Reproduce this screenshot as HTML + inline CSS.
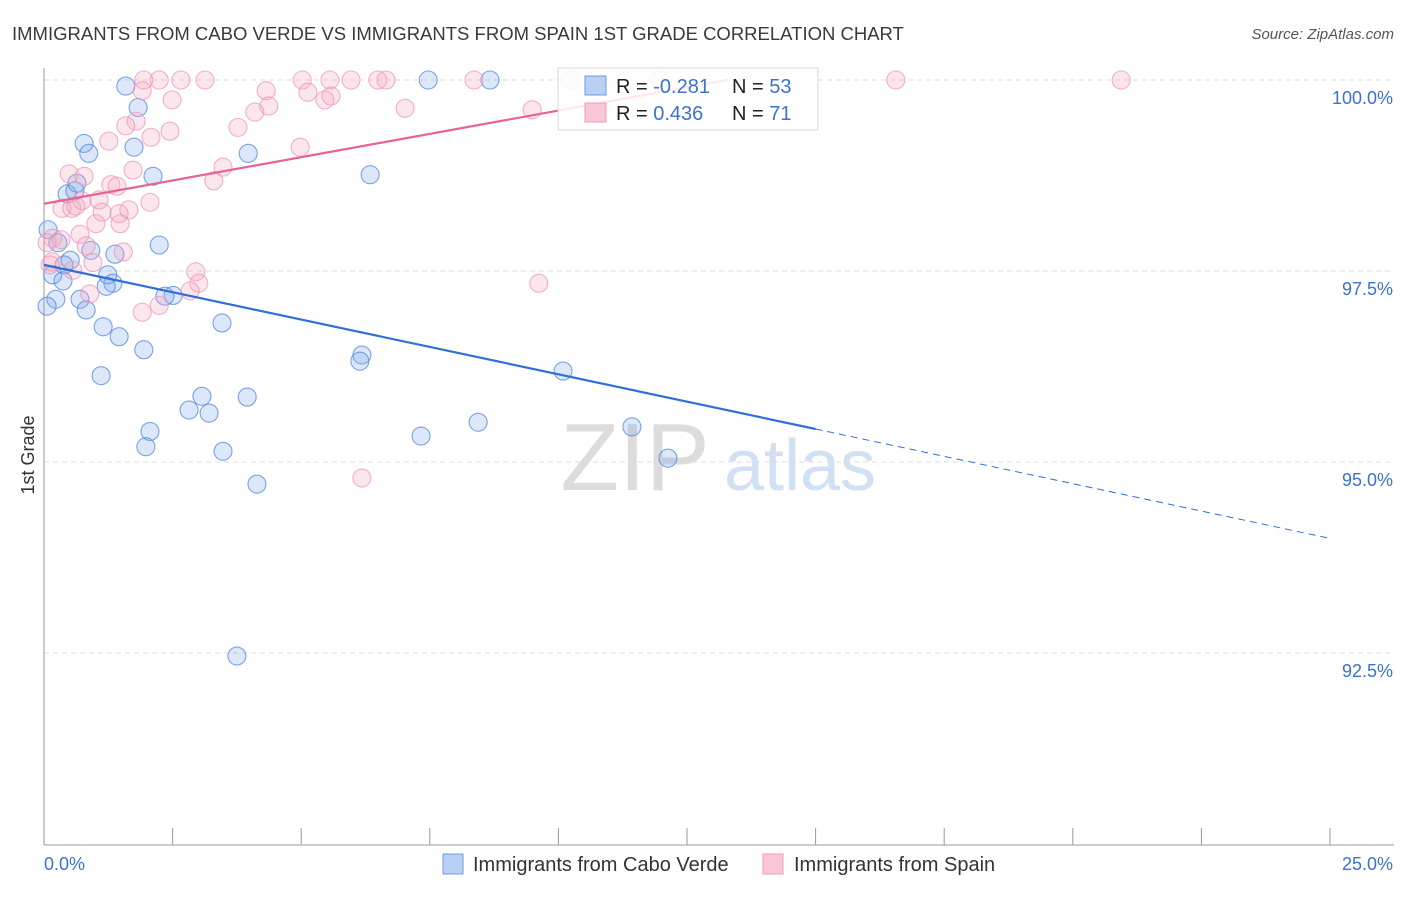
<!DOCTYPE html>
<html><head><meta charset="utf-8"><style>
body{margin:0;background:#fff;font-family:"Liberation Sans",sans-serif;}
svg text{font-family:"Liberation Sans",sans-serif;}
</style></head><body>
<svg id="chart" width="1406" height="892" viewBox="0 0 1406 892">
<text x="12" y="40" font-size="18.5" fill="#3a3a3a">IMMIGRANTS FROM CABO VERDE VS IMMIGRANTS FROM SPAIN 1ST GRADE CORRELATION CHART</text>
<text x="1394" y="39" font-size="15" fill="#555" text-anchor="end" font-style="italic">Source: ZipAtlas.com</text>
<text transform="translate(34,455) rotate(-90)" font-size="18" fill="#333" text-anchor="middle">1st Grade</text>
<g>
<text x="635" y="490" font-size="96" fill="#dcdcdc" font-family="Liberation Serif" text-anchor="middle">ZIP</text>
<text x="800" y="490" font-size="72" fill="#d2e0f4" text-anchor="middle">atlas</text>
</g>
<g id="grid"></g>
<g id="axes"></g>
<g id="pts"></g>
<g id="lines"></g>
<g>
<rect x="558" y="68" width="260" height="62" fill="#fff" fill-opacity="0.85" stroke="#d8d8d8"/>
<rect x="585" y="76" width="21" height="19" fill="#b7d0f4" stroke="#6b9be0"/>
<rect x="585" y="103" width="21" height="19" fill="#f9c6d6" stroke="#f09ab4"/>
<text x="616" y="93" font-size="20" fill="#222">R = <tspan fill="#3b72d1">-0.281</tspan></text>
<text x="732" y="93" font-size="20" fill="#222">N = <tspan fill="#3b72d1">53</tspan></text>
<text x="616" y="120" font-size="20" fill="#222">R = <tspan fill="#3b72d1"> 0.436</tspan></text>
<text x="732" y="120" font-size="20" fill="#222">N = <tspan fill="#3b72d1"> 71</tspan></text>
</g>
<g>
<rect x="443" y="854" width="20" height="20" fill="#b7d0f4" stroke="#6b9be0"/>
<text x="473" y="871" font-size="20" fill="#333">Immigrants from Cabo Verde</text>
<rect x="763" y="854" width="20" height="20" fill="#f9c6d6" stroke="#f09ab4"/>
<text x="794" y="871" font-size="20" fill="#333">Immigrants from Spain</text>
</g>
</svg>
<script>
const blueX=[1.59,7.47,8.67,1.83,0.78,0.87,1.75,3.97,2.12,6.34,0.45,0.60,0.64,2.24,0.91,1.38,0.51,0.08,0.27,0.39,0.17,1.24,0.37,1.34,1.21,0.23,0.70,0.06,0.82,2.51,2.35,1.15,3.46,1.46,1.94,6.18,6.14,1.11,10.09,3.07,3.95,2.82,3.21,8.44,2.06,11.43,7.33,1.98,3.48,12.13,4.14,3.75];
const blueY=[99.92,100,100,99.64,99.17,99.04,99.12,99.04,98.74,98.76,98.51,98.55,98.65,97.84,97.77,97.72,97.64,98.04,97.87,97.58,97.45,97.45,97.37,97.34,97.30,97.13,97.13,97.04,96.99,97.18,97.17,96.77,96.82,96.64,96.47,96.40,96.32,96.13,96.19,95.86,95.85,95.68,95.64,95.52,95.40,95.46,95.34,95.20,95.14,95.05,94.71,92.46];
const pinkX=[1.94,2.24,2.66,3.13,5.02,5.56,5.97,6.49,6.65,8.36,10.23,11.98,16.56,20.94,1.91,2.49,4.32,5.13,5.46,5.58,7.02,9.49,4.10,4.37,1.79,1.59,3.77,2.45,2.08,1.26,4.98,3.48,1.73,0.49,0.78,3.30,1.30,1.42,2.06,0.74,1.07,0.35,0.54,0.62,1.13,1.65,1.46,1.48,1.01,0.70,0.17,0.33,0.06,0.82,1.54,0.95,0.16,0.12,0.56,2.95,3.01,9.62,2.84,0.89,2.24,1.91,6.18];
const pinkY=[100,100,100,100,100,100,100,100,100,100,100,100,100,100,99.86,99.74,99.86,99.84,99.74,99.79,99.63,99.61,99.58,99.66,99.46,99.40,99.38,99.33,99.25,99.20,99.12,98.86,98.82,98.77,98.74,98.68,98.63,98.61,98.40,98.42,98.43,98.32,98.32,98.35,98.27,98.30,98.25,98.12,98.12,97.98,97.93,97.91,97.87,97.83,97.75,97.61,97.62,97.58,97.51,97.49,97.34,97.34,97.24,97.20,97.05,96.96,94.79];
const yTicks=[100,97.5,95,92.5];
const yTickLabels=["100.0%","97.5%","95.0%","92.5%"];
const xTickLabels=["0.0%","25.0%"];
const blueTrend=[97.58,94.0];
const pinkTrend=[98.38,0.122];
const NS='http://www.w3.org/2000/svg';
const X=v=>44+v*51.44, Y=v=>80+(100-v)*76.4;
function mk(p,t,a){const e=document.createElementNS(NS,t);for(const k in a)e.setAttribute(k,a[k]);document.getElementById(p).appendChild(e);return e;}
yTicks.forEach((t,i)=>{
 const l=mk('grid','line',{x1:44,x2:1394,y1:Y(t),y2:Y(t),stroke:'#dcdcdc','stroke-dasharray':'5,4'});
 
 
 const tx=mk('grid','text',{x:1393,y:Y(t)+24,'font-size':18,fill:'#3b72d1','text-anchor':'end'});
 tx.textContent=yTickLabels[i];
 
 
});
const ax=mk('axes','line',{x1:44,x2:44,y1:68,y2:845,stroke:'#999'});


const bx=mk('axes','line',{x1:44,x2:1394,y1:845,y2:845,stroke:'#999'});


for(let i=0;i<=10;i++){const t=mk('axes','line',{x1:X(i*2.5),x2:X(i*2.5),y1:828,y2:845,stroke:'#999'});
 
 }
const xl0=mk('axes','text',{x:44,y:870,'font-size':18,fill:'#3b72d1'});xl0.textContent=xTickLabels[0];


const xl1=mk('axes','text',{x:1393,y:870,'font-size':18,fill:'#3b72d1','text-anchor':'end'});xl1.textContent=xTickLabels[1];


blueX.forEach((v,i)=>{const c=mk('pts','circle',{cx:X(v),cy:Y(blueY[i]),r:9,fill:'rgba(130,170,235,0.28)',stroke:'rgba(80,135,220,0.75)','stroke-width':1.1});
 
 });
pinkX.forEach((v,i)=>{const c=mk('pts','circle',{cx:X(v),cy:Y(pinkY[i]),r:9,fill:'rgba(245,165,195,0.28)',stroke:'rgba(238,150,180,0.75)','stroke-width':1.1});
 
 });
const bAt=x=>blueTrend[0]+(blueTrend[1]-blueTrend[0])*x/25;
const b1=mk('lines','line',{x1:X(0),y1:Y(bAt(0)),x2:X(15),y2:Y(bAt(15)),stroke:'#2f6fd6','stroke-width':2.2});


const b2=mk('lines','line',{x1:X(15),y1:Y(bAt(15)),x2:X(25),y2:Y(bAt(25)),stroke:'#2f6fd6','stroke-width':1,'stroke-dasharray':'7,5'});


const pAt=x=>pinkTrend[0]+pinkTrend[1]*x;
const p1=mk('lines','line',{x1:X(0),y1:Y(pAt(0)),x2:X(13.3),y2:Y(pAt(13.3)),stroke:'#e8648e','stroke-width':2.2});


</script>
</body></html>
